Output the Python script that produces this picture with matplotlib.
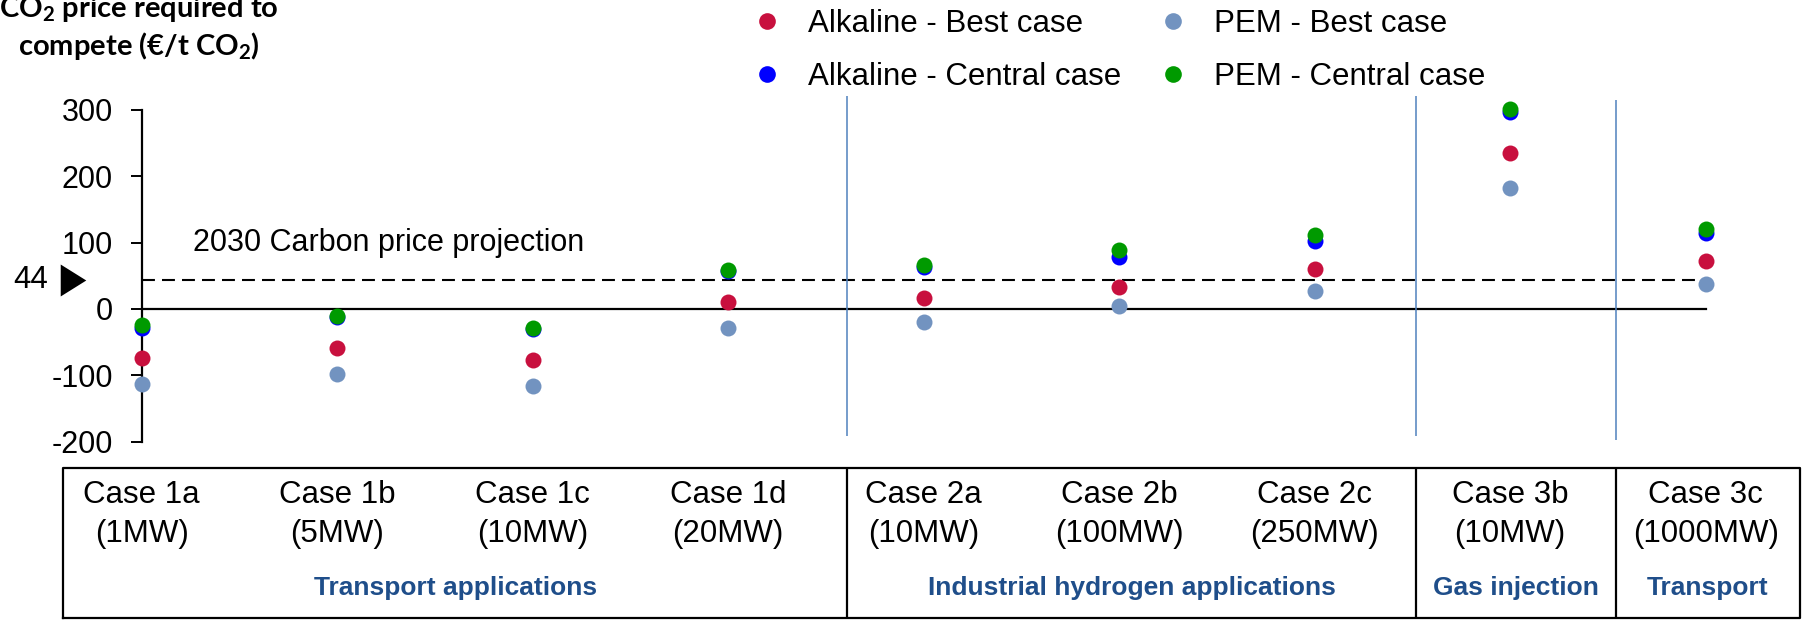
import matplotlib.pyplot as plt
from matplotlib.lines import Line2D

plt.rcParams['font.family'] = ['Liberation Sans', 'DejaVu Sans']
plt.rcParams['mathtext.fontset'] = 'custom'
plt.rcParams['mathtext.rm'] = 'Lato'
plt.rcParams['mathtext.bf'] = 'Lato:bold'
plt.rcParams['axes.unicode_minus'] = False

# data
cases = ['Case 1a', 'Case 1b', 'Case 1c', 'Case 1d', 'Case 2a', 'Case 2b', 'Case 2c', 'Case 3b', 'Case 3c']
sizes = ['(1MW)', '(5MW)', '(10MW)', '(20MW)', '(10MW)', '(100MW)', '(250MW)', '(10MW)', '(1000MW)']
groups = ['Transport applications', 'Industrial hydrogen applications', 'Gas injection', 'Transport']
alk_best = [-74, -59, -77, 10, 16, 33, 61, 235, 73]
alk_central = [-29, -12, -30, 57, 64, 79, 102, 297, 114]
pem_best = [-113, -98, -116, -29, -20, 4, 27, 183, 37]
pem_central = [-24, -11, -29, 59, 67, 89, 112, 301, 121]
carbon_price = 44

col_red = '#C8103E'
col_blue = '#0000FF'
col_grey = '#7293C0'
col_green = '#009A00'
sep_col = '#4F81BD'

fig = plt.figure(figsize=(18.07, 6.2), dpi=100)
W, H = 1807, 620
ax_left = 141.7 / W
ax = fig.add_axes([ax_left, (H - 441.6) / H, 1 - ax_left, (441.6 - 110) / H])
x_right = (W - 141.7) / 195.5
ax.set_xlim(0, x_right)
ax.set_ylim(-200, 300)

x = list(range(len(cases)))
ms = 11.5
ax.plot(x, pem_best, 'o', color=col_grey, ms=ms, mew=0, clip_on=False, zorder=3)
ax.plot(x, alk_best, 'o', color=col_red, ms=ms, mew=0, clip_on=False, zorder=3)
ax.plot(x, alk_central, 'o', color=col_blue, ms=ms, mew=0, clip_on=False, zorder=3)
ax.plot(x, pem_central, 'o', color=col_green, ms=ms, mew=0, clip_on=False, zorder=3)

# zero line and carbon price line
ax.plot([0, len(cases) - 1], [0, 0], color='black', lw=1.6, zorder=2)
ax.plot([0, len(cases) - 1], [carbon_price, carbon_price], color='black', lw=1.5,
        dashes=(6.2, 3.4), zorder=2)
ax.text(0.262, 100, '2030 Carbon price projection', fontsize=22, va='center', ha='left')
ax.text(-0.479, carbon_price, str(carbon_price), fontsize=22.5, va='center', ha='right')
ax.plot([-0.351], [carbon_price], marker=[(-0.8, -1), (-0.8, 1), (0.8, 0)], ms=23,
        color='black', mew=0, clip_on=False)

# section separators
seps = [3.61, 6.52, 7.54]
ax.vlines(seps[:2], -192, 321, color=sep_col, lw=1.1, clip_on=False)
ax.vlines(seps[2:], -198, 315, color=sep_col, lw=1.1, clip_on=False)

# axes styling
for s in ['top', 'right', 'bottom']:
    ax.spines[s].set_visible(False)
ax.spines['left'].set_linewidth(1.6)
ax.set_xticks([])
ax.set_yticks([-200, -100, 0, 100, 200, 300])
ax.tick_params(axis='y', labelsize=22, length=7.7, width=1.4, pad=13)

# y label (two lines, cut at the top like the original)
ylab_kw = dict(fontsize=21, fontweight='bold', family=['Lato', 'DejaVu Sans'],
               ha='center', va='baseline')
fig.text(139 / W, 1 - 16.7 / H, 'CO$_\\mathbf{2}$ price required to', **ylab_kw)
fig.text(139 / W, 1 - 55 / H, 'compete (€/t CO$_\\mathbf{2}$)', **ylab_kw)

# legend
handles = [Line2D([], [], ls='none', marker='o', ms=12, mew=0, color=c)
           for c in [col_red, col_blue, col_grey, col_green]]
labels = ['Alkaline - Best case', 'Alkaline - Central case', 'PEM - Best case', 'PEM - Central case']
fig.legend(handles, labels, ncol=2, loc='upper left', bbox_to_anchor=(751 / W, 1 - 8.5 / H),
           frameon=False, fontsize=22.5, handlelength=1.0, handletextpad=0.82,
           columnspacing=1.15, labelspacing=0.76, borderpad=0, borderaxespad=0)

# table below
ax_t = fig.add_axes([ax_left, 0, 1 - ax_left, 154 / H])
ax_t.set_xlim(0, x_right)
ax_t.set_ylim(0, 1)
ax_t.axis('off')
t_left, t_right, t_bot, t_top = -0.40, 8.48, 0.011, 0.987
ax_t.plot([t_left, t_right, t_right, t_left, t_left], [t_bot, t_bot, t_top, t_top, t_bot],
          color='black', lw=1.6, clip_on=False)
ax_t.vlines(seps, t_bot, t_top, color='black', lw=1.6, clip_on=False)
for i in x:
    ax_t.text(i, 0.81, cases[i], fontsize=22.5, ha='center', va='center')
    ax_t.text(i, 0.56, sizes[i], fontsize=22.5, ha='center', va='center')
bounds = [t_left] + seps + [t_right]
for g, a, b in zip(groups, bounds[:-1], bounds[1:]):
    ax_t.text((a + b) / 2, 0.206, g, fontsize=19, fontweight='bold', color='#1F4E8A',
              ha='center', va='center', clip_on=False)

fig.savefig('out.png', dpi=100)
